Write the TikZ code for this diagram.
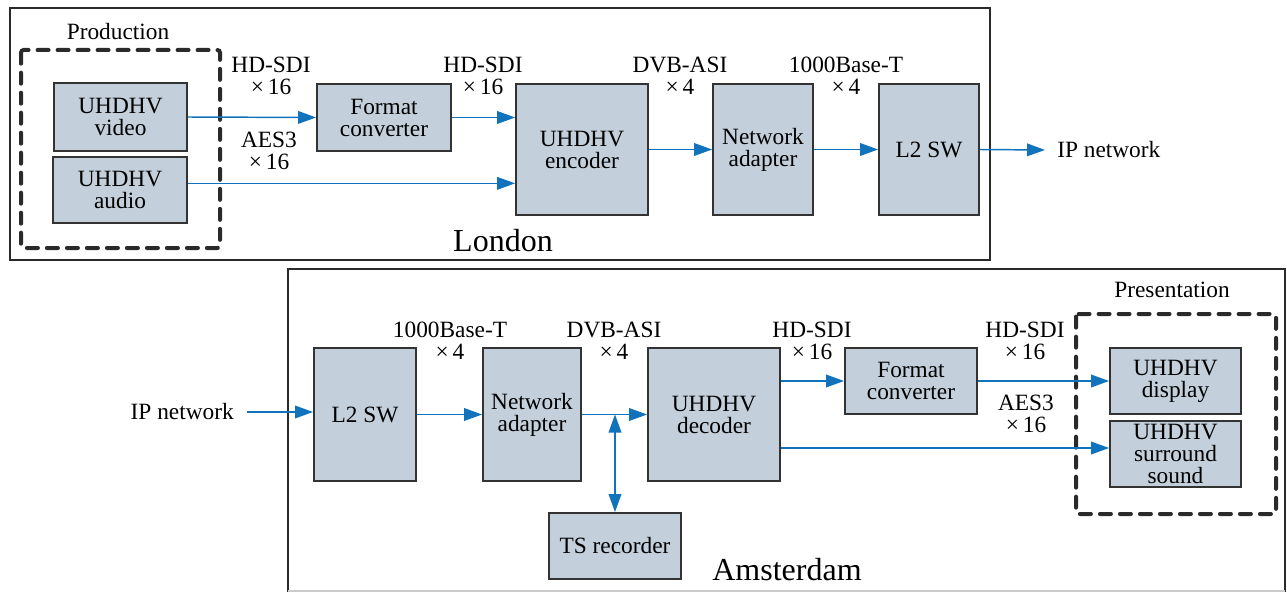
\documentclass[tikz,border=0pt]{standalone}
\usepackage{fontspec}
\setmainfont{Liberation Serif}
\usetikzlibrary{arrows.meta,calc}

\definecolor{boxfill}{HTML}{C3CFDB}
\definecolor{boxline}{HTML}{333333}
\definecolor{frameline}{HTML}{2A2A2A}
\definecolor{sigblue}{HTML}{1273BD}

\tikzset{
  wh/.style 2 args={minimum width=#1*0.75pt, minimum height=#2*0.75pt},
  blk/.style={draw=boxline, fill=boxfill, line width=1.4pt, inner sep=0pt,
    align=center, font=\fontsize{17.5}{16.5}\selectfont},
  lbl/.style={inner sep=0pt, align=center, font=\fontsize{17.5}{16.5}\selectfont},
  city/.style={inner sep=0pt, font=\fontsize{24}{28}\selectfont},
  sig/.style={draw=sigblue, line width=1.1pt,
    -{Triangle[length=13.5pt, width=9.5pt]}},
  sigboth/.style={draw=sigblue, line width=1.1pt,
    {Triangle[length=13.5pt, width=9.5pt]}-{Triangle[length=13.5pt, width=9.5pt]}},
  site/.style={draw=frameline, line width=2.2pt},
  group/.style={draw=frameline, line width=3pt, line cap=round,
    dash pattern=on 8.25pt off 6.75pt, rounded corners=2pt},
}

\begin{document}
\begin{tikzpicture}[x=0.75pt, y=-0.75pt]
\useasboundingbox (0,0) rectangle (1287,592);

% ---------------- London (sending side) ----------------
\draw[site] (10,8) rectangle (990,260);
\node[city] (london) at (503,241) {London};

\draw[group] (21,50) rectangle (220,248);
\node[lbl] (prod) at (118,32) {Production};

\node[blk, wh={133}{68}] (vid) at (120.5,117) {UHDHV\\video};
\node[blk, wh={134}{66}] (aud) at (120,190) {UHDHV\\audio};
\node[blk, wh={134}{67}] (fc1) at (384,117.5) {Format\\converter};
\node[blk, wh={132}{131}] (enc) at (582,149.5) {UHDHV\\encoder};
\node[blk, wh={100}{131}] (na1) at (763,149.5) {Network\\adapter};
\node[blk, wh={100}{131}] (sw1) at (929,149.5) {L2 SW};
\node[lbl, anchor=west] (ip1) at (1057,150) {IP network};

\node[lbl] (l1) at (271,76) {HD-SDI\\×\,16};
\node[lbl] (l2) at (483,76) {HD-SDI\\×\,16};
\node[lbl] (l3) at (269,151) {AES3\\×\,16};
\node[lbl] (l4) at (680,76) {DVB-ASI\\×\,4};
\node[lbl] (l5) at (846,76) {1000Base-T\\×\,4};

\draw[sig] (vid.east) -- (fc1.west);
\draw[sig] (fc1.east) -- (fc1.east -| enc.west);
\draw[sig] ([yshift=5pt]aud.east) coordinate (a1) -- (a1 -| enc.west);
\draw[sig] (enc.east) -- (na1.west);
\draw[sig] (na1.east) -- (sw1.west);
\draw[sig] (sw1.east) -- ([xshift=-9pt]ip1.west);

% ---------------- Amsterdam (receiving side) ----------------
\draw[site] (288,591.5) -- (288,269) -- (1285,269) -- (1285,591.5);
\draw[draw=black!20, line width=0.8pt] (288,591) -- (1285,591);
\node[city] (ams) at (787,570) {Amsterdam};

\draw[group] (1076,314) rectangle (1276,514);
\node[lbl] (pres) at (1172,290) {Presentation};

\node[lbl, anchor=east] (ip2) at (234,412) {IP network};
\node[blk, wh={102}{133}] (sw2) at (365,414.5) {L2 SW};
\node[blk, wh={98}{133}] (na2) at (532,414.5) {Network\\adapter};
\node[blk, wh={132}{133}] (dec) at (714,414.5) {UHDHV\\decoder};
\node[blk, wh={132}{66}] (ts) at (615,546) {TS recorder};
\node[blk, wh={132}{66}] (fc2) at (911,381) {Format\\converter};
\node[blk, wh={131}{66}] (disp) at (1175.5,381) {UHDHV\\display};
\node[blk, wh={131}{66}] (surr) at (1175.5,454) {UHDHV\\surround\\sound};

\node[lbl] (m1) at (450,341) {1000Base-T\\×\,4};
\node[lbl] (m2) at (614,341) {DVB-ASI\\×\,4};
\node[lbl] (m3) at (812,341) {HD-SDI\\×\,16};
\node[lbl] (m4) at (1025,341) {HD-SDI\\×\,16};
\node[lbl] (m5) at (1026,414) {AES3\\×\,16};

\draw[sig] ([xshift=10pt]ip2.east) -- (ip2.east -| sw2.west);
\draw[sig] (sw2.east) -- (na2.west);
\draw[sig] (na2.east) -- (dec.west);
\draw[sigboth] (ts.north |- na2.east) -- (ts.north);
\draw[sig] (fc2.west -| dec.east) -- (fc2.west);
\draw[sig] (fc2.east) -- (disp.west);
\coordinate (a2) at ([yshift=4.5pt]surr.west);
\draw[sig] (a2 -| dec.east) -- (a2);
\end{tikzpicture}
\end{document}
